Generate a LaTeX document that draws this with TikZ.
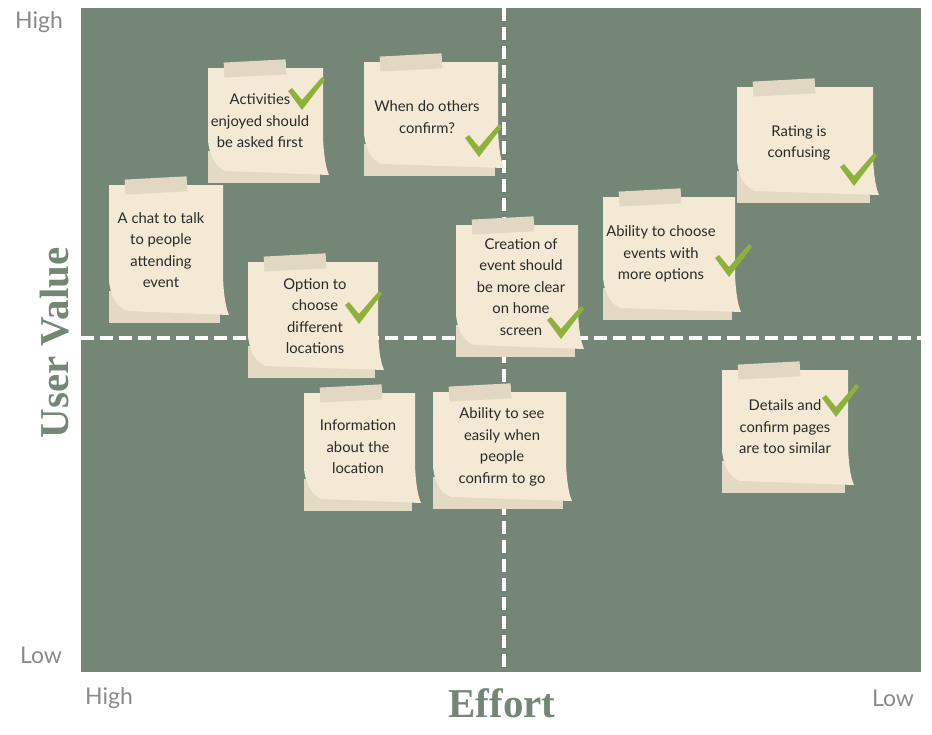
\documentclass[tikz,border=0pt]{standalone}
\usepackage{fontspec}
\setmainfont{Lato}
\newfontfamily\titlefont{Liberation Serif}
\usepackage{xcolor}
\usetikzlibrary{positioning,calc}
\definecolor{board}{HTML}{748676}
\definecolor{paper}{HTML}{F3E9D4}
\definecolor{fold}{HTML}{E4D9C3}
\definecolor{tapec}{HTML}{E2D7C2}
\definecolor{tickc}{HTML}{8DB13A}
\definecolor{axisgray}{HTML}{8A8A8A}
\definecolor{inktext}{HTML}{2A2A2A}

\tikzset{
  divider/.style={white,line width=4pt,dash pattern=on 13pt off 6pt},
  notetext/.style={align=center,inner sep=0pt,text=inktext,
    font=\fontsize{14.8}{21.5}\selectfont},
  axislabel/.style={text=axisgray,inner sep=0pt,font=\fontsize{23}{26}\selectfont},
  axistitle/.style={text=board,inner sep=0pt,
    font=\titlefont\bfseries\fontsize{41}{44}\selectfont},
  checkmark/.pic={
    \fill[tickc] (-16,-13) -- (-12,-16) -- (-2,-4) -- (18,-27) -- (21,-24)
      -- (-2,6) -- cycle;
  }
}

% sticky note: name, x1, y1, x2, y2, text x, text y, text
\newcommand{\stickynote}[8]{%
  \pgfmathsetmacro\nw{#4-#2}%
  \pgfmathsetmacro\nh{#5-#3}%
  \begin{scope}[shift={(#2,#3)}]
    \fill[fold] (0,\nh-32) rectangle (\nw-8,\nh);
    \fill[paper] (0,0) -- (\nw-5,0) -- (\nw-5,\nh-45)
      .. controls (\nw-4,\nh-25) and (\nw-2,\nh-15) .. (\nw+1,\nh-8)
      -- (18,\nh-12) .. controls (8,\nh-16) and (2,\nh-25) .. (0,\nh-42)
      -- cycle;
    \fill[tapec,rotate around={3:(46,0)}] (16,-7) rectangle (78,8);
  \end{scope}
  \node[notetext] (#1) at (#6,#7) {#8};
}

\begin{document}
\begin{tikzpicture}[x=1pt,y=-1pt]
  \useasboundingbox (0,0) rectangle (932,734);

  % ---------------------------------------------------------------- BOARD
  \fill[board] (81,8) rectangle (921,672);
  \draw[divider] (504,8) -- (504,672);
  \draw[divider] (81,338) -- (921,338);

  % ---------------------------------------------------------------- AXES
  \node[axislabel] (vhigh) at (39,22) {High};
  \node[axislabel] (vlow) at (41,655) {Low};
  \node[axislabel] (ehigh) at (109,698) {High};
  \node[axislabel] (elow) at (893,698) {Low};
  \node[axistitle,rotate=90] (value) at (55,343) {User Value};
  \node[axistitle] (effort) at (502,703) {Effort};

  % ---------------------------------------------------------------- NOTES
  \stickynote{activities}{208}{68}{328}{183}{260}{121}{Activities\\enjoyed should\\be asked first}
  \stickynote{others}{364}{62}{503}{176}{427}{117}{When do others\\confirm?}
  \stickynote{rating}{737}{87}{878}{203}{799}{143}{Rating is\\confusing}
  \stickynote{chat}{109}{185}{228}{323}{161}{250}{A chat to talk\\to people\\attending\\event}
  \stickynote{option}{248}{262}{383}{378}{315}{316}{Option to\\choose\\different\\locations}
  \stickynote{creation}{456}{225}{583}{357}{521}{287}{Creation of\\event should\\be more clear\\on home\\screen}
  \stickynote{choose}{603}{197}{740}{320}{661}{254}{Ability to choose\\events with\\more options}
  \stickynote{details}{722}{370}{853}{493}{785}{427}{Details and\\confirm pages\\are too similar}
  \stickynote{info}{304}{393}{420}{511}{358}{447}{Information\\about the\\location}
  \stickynote{seeing}{433}{392}{571}{509}{502}{447}{Ability to see\\easily when\\people\\confirm to go}

  % ---------------------------------------------------------------- TICKS
  \pic at (304,104) {checkmark};
  \pic at (481,151) {checkmark};
  \pic at (856,180) {checkmark};
  \pic at (361,318) {checkmark};
  \pic at (563,333) {checkmark};
  \pic at (731,271) {checkmark};
  \pic at (838,411) {checkmark};

\end{tikzpicture}
\end{document}
